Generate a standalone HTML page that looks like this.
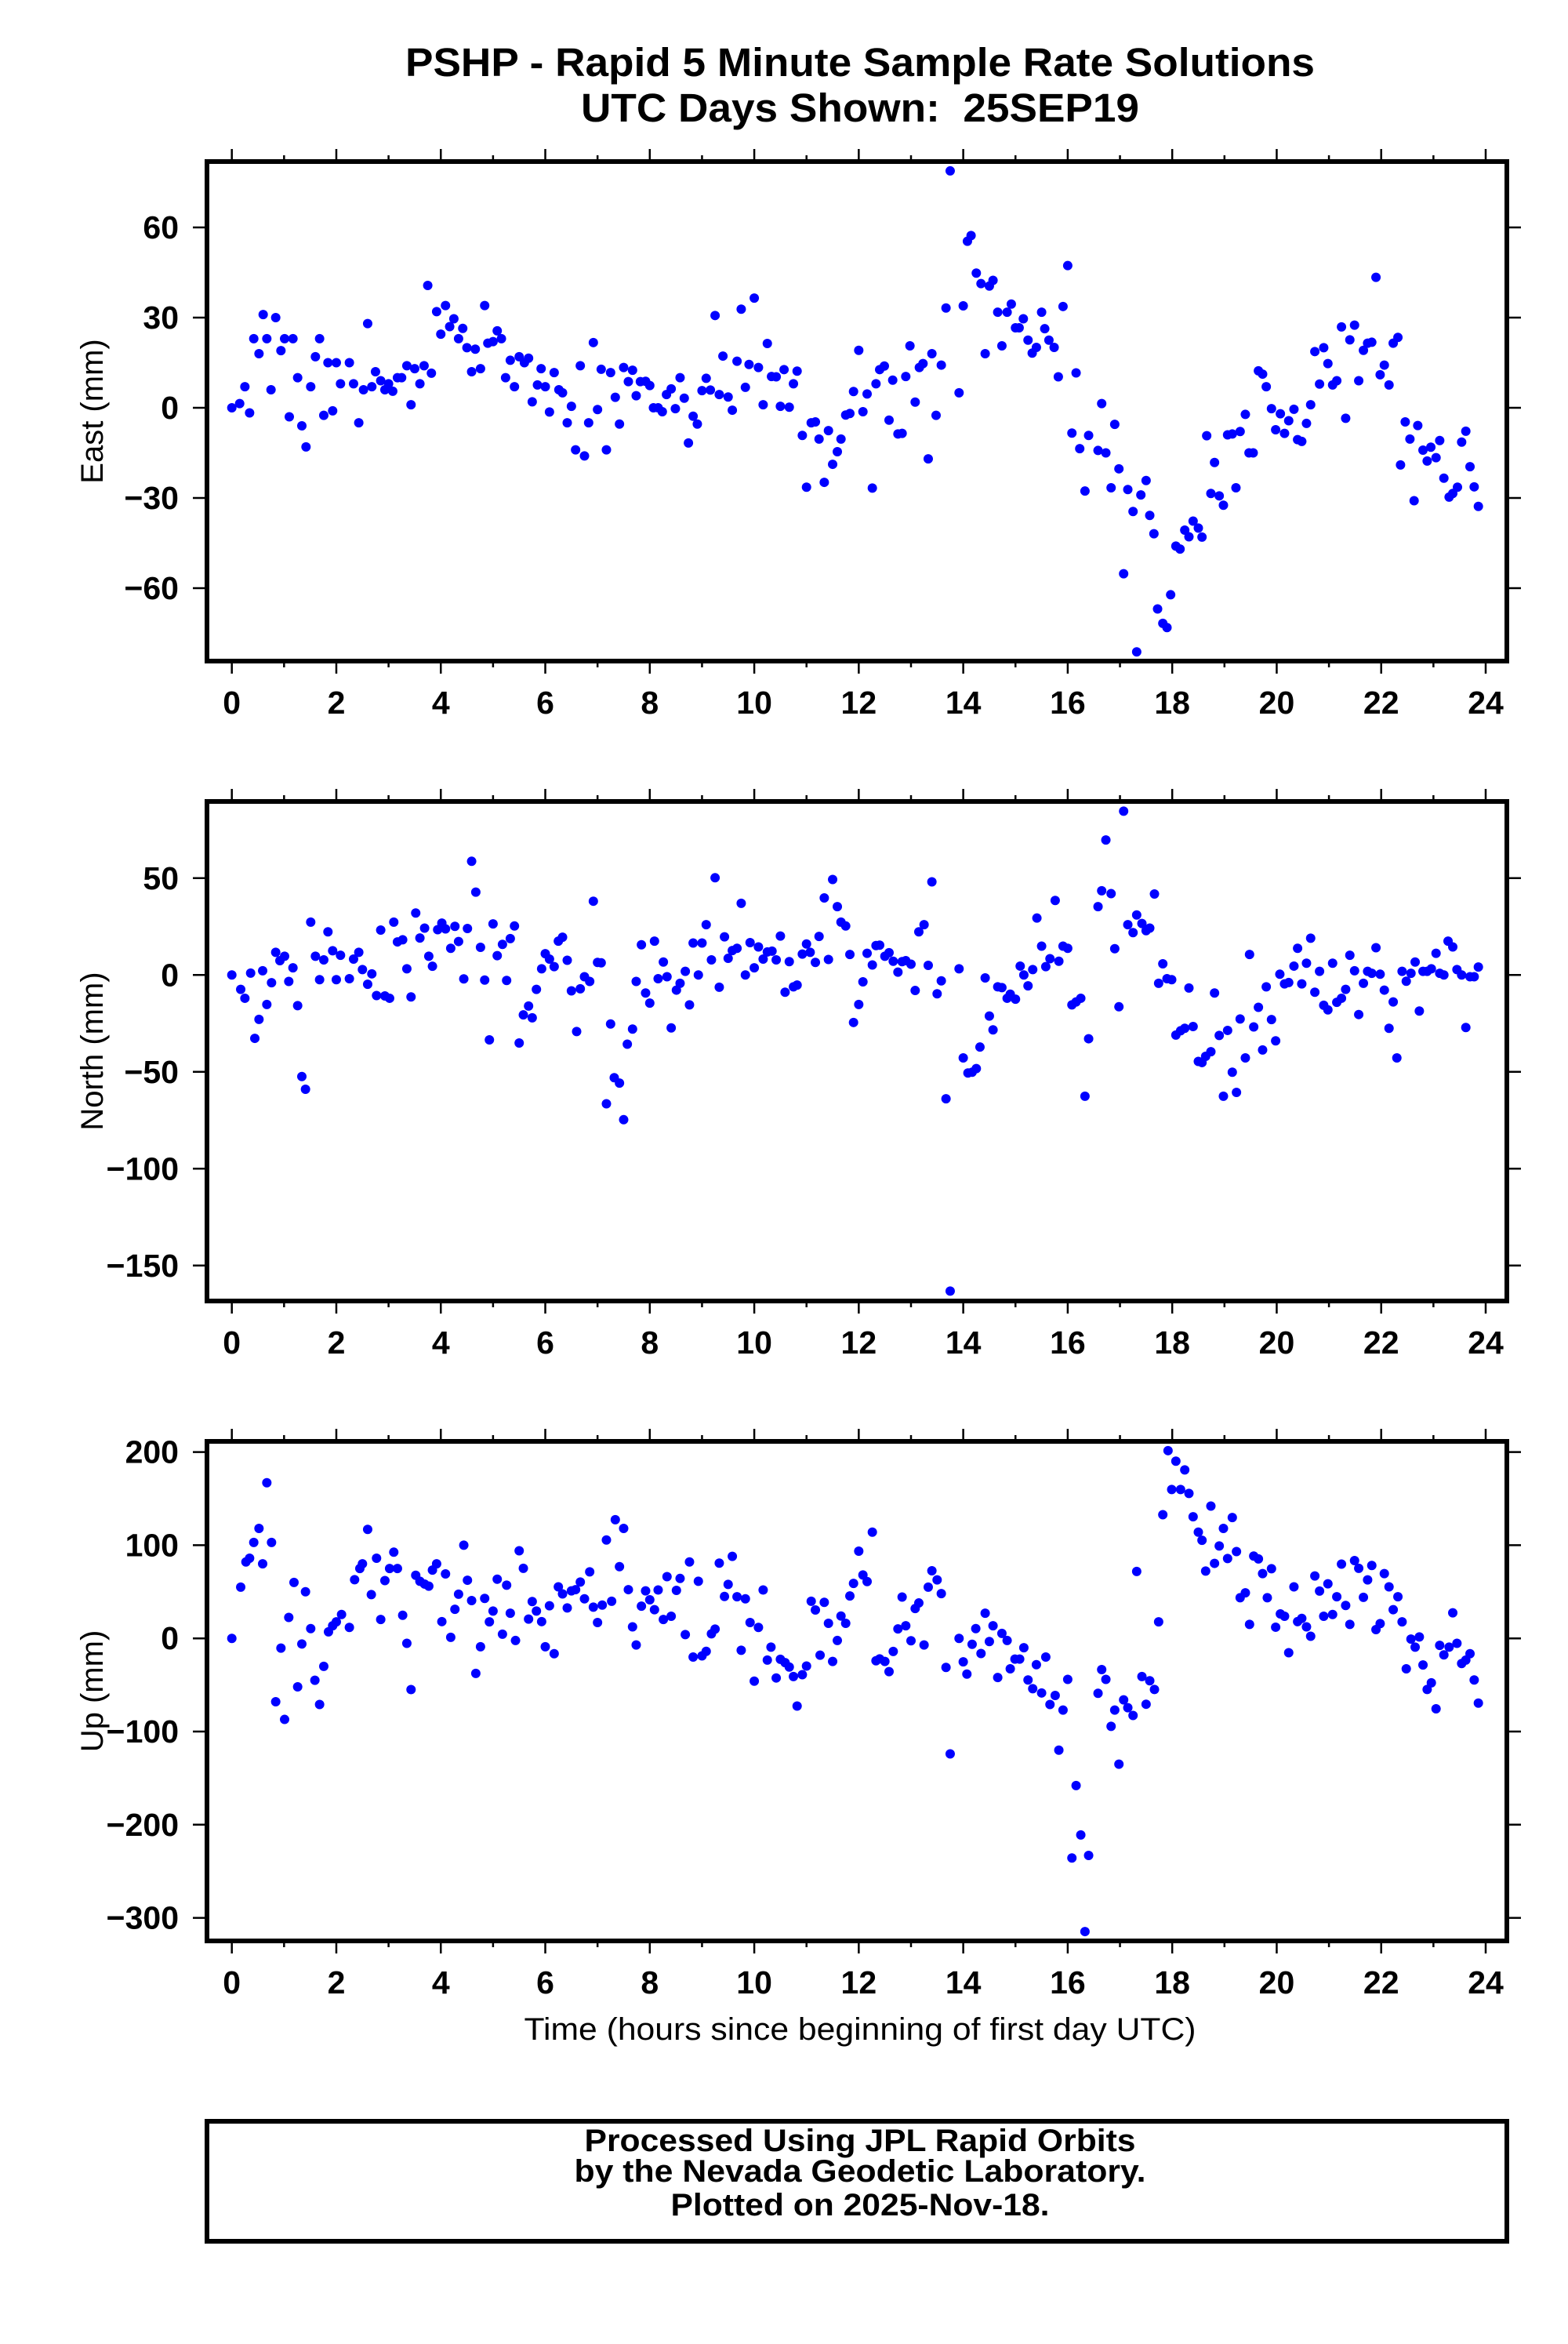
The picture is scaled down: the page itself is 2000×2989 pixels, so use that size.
<!DOCTYPE html>
<html><head><meta charset="utf-8">
<style>
html,body{margin:0;padding:0;background:#fff;}
svg{display:block;}
text{font-family:"Liberation Sans",Arial,sans-serif;fill:#000;}
</style></head>
<body>
<svg id="fig" width="2000" height="2989" viewBox="0 0 2000 2989" xmlns="http://www.w3.org/2000/svg">
<rect x="0" y="0" width="2000" height="2989" fill="#fff"/>
<text x="1097" y="97" font-size="51" font-weight="bold" text-anchor="middle" textLength="1160" lengthAdjust="spacingAndGlyphs">PSHP - Rapid 5 Minute Sample Rate Solutions</text>
<text x="1097" y="155" font-size="51" font-weight="bold" text-anchor="middle" textLength="712" lengthAdjust="spacingAndGlyphs">UTC Days Shown: &#160;25SEP19</text>
<g id="panels"></g>
<text x="1097" y="2601" font-size="40" text-anchor="middle" textLength="857" lengthAdjust="spacingAndGlyphs">Time (hours since beginning of first day UTC)</text>
<rect x="264" y="2705" width="1658" height="153" fill="none" stroke="#000" stroke-width="6"/>
<text x="1097" y="2743" font-size="40" font-weight="bold" text-anchor="middle" textLength="703" lengthAdjust="spacingAndGlyphs">Processed Using JPL Rapid Orbits</text>
<text x="1097" y="2782" font-size="40" font-weight="bold" text-anchor="middle" textLength="729" lengthAdjust="spacingAndGlyphs">by the Nevada Geodetic Laboratory.</text>
<text x="1097" y="2825" font-size="40" font-weight="bold" text-anchor="middle" textLength="483" lengthAdjust="spacingAndGlyphs">Plotted on 2025-Nov-18.</text>
</svg>
<script>
const xTicks=[0,2,4,6,8,10,12,14,16,18,20,22,24];
const xTickLabels=["0","2","4","6","8","10","12","14","16","18","20","22","24"];

const eastT=[0,.15,.25,.34,.42,.52,.6,.67,.75,.84,.94,1.01,1.1,1.17,1.26,1.34,1.42,1.51,1.6,1.68,1.76,1.84,1.93,2.0,2.08,2.25,2.33,2.43,2.52,2.6,2.68,2.75,2.85,2.93,3.0,3.08,3.17,3.25,3.35,3.43,3.5,3.6,3.68,3.75,3.82,3.92,4.0,4.09,4.17,4.25,4.34,4.42,4.5,4.59,4.66,4.76,4.84,4.9,5.0,5.08,5.16,5.24,5.33,5.41,5.5,5.6,5.68,5.75,5.85,5.92,6.0,6.08,6.17,6.26,6.33,6.42,6.5,6.58,6.67,6.75,6.83,6.92,7.0,7.07,7.17,7.25,7.34,7.42,7.5,7.59,7.67,7.74,7.82,7.92,8.0,8.07,8.16,8.24,8.32,8.41,8.49,8.58,8.66,8.74,8.83,8.91,9.0,9.08,9.16,9.25,9.33,9.4,9.5,9.58,9.67,9.75,9.83,9.9,10.0,10.08,10.17,10.25,10.33,10.42,10.5,10.57,10.67,10.75,10.82,10.92,11.0,11.09,11.17,11.24,11.34,11.42,11.5,11.59,11.66,11.75,11.83,11.9,12.0,12.08,12.16,12.26,12.33,12.4,12.49,12.58,12.65,12.75,12.83,12.9,12.98,13.08,13.16,13.23,13.33,13.4,13.48,13.58,13.67,13.75,13.92,14.0,14.08,14.15,14.25,14.34,14.42,14.5,14.57,14.66,14.74,14.84,14.92,15.0,15.07,15.15,15.24,15.32,15.4,15.5,15.56,15.64,15.74,15.82,15.91,16.0,16.08,16.16,16.23,16.33,16.4,16.58,16.65,16.73,16.83,16.9,16.98,17.07,17.15,17.25,17.32,17.4,17.5,17.57,17.65,17.72,17.82,17.9,17.97,18.07,18.15,18.24,18.32,18.4,18.5,18.57,18.66,18.74,18.81,18.9,18.98,19.06,19.15,19.22,19.3,19.4,19.47,19.55,19.65,19.73,19.8,19.9,19.98,20.07,20.15,20.23,20.33,20.4,20.48,20.57,20.65,20.73,20.82,20.9,20.98,21.07,21.15,21.24,21.32,21.4,21.49,21.57,21.66,21.74,21.82,21.9,21.98,22.06,22.15,22.23,22.32,22.37,22.46,22.55,22.63,22.7,22.8,22.88,22.95,23.05,23.12,23.2,23.3,23.37,23.46,23.54,23.62,23.7,23.78,23.86];
const eastV=[0,1.4,7,-1.7,23,18,31,23,6,30,19,23,-3,23,10,-6,-13,7,17,23,-2.5,15,-1,15,8,15,8,-5,6,28,7,12,9,6,8,5.5,10,10,14,1,13,8,14,40.7,11.5,32,24.5,34,27,29.6,23,26.4,20,12,19.5,13,34,21.5,22,25.6,23,10,15.8,7,17,15,16.5,2,7.6,13,7,-1.4,11.7,6,5,-5,0.5,-14,14,-16,-5,21.7,-0.6,12.8,-14,11.7,3.5,-5.4,13.4,8.7,12.5,4,8.7,8.8,7.4,0,0,-1.3,4.4,6.3,-0.3,10,3.2,-11.7,-2.8,-5.4,5.7,9.8,5.9,30.7,4.4,17.2,3.6,-0.8,15.5,32.8,6.8,14.4,36.5,13.4,1,21.4,10.4,10.3,0.5,12.7,0.2,8,12.2,-9.2,-26.4,-5,-4.7,-10.4,-24.8,-7.6,-18.8,-14.6,-10.4,-2.4,-1.9,5.4,19.1,-1.3,4.6,-26.7,8,12.7,13.9,-4.1,9.2,-8.7,-8.5,10.4,20.6,1.9,13.4,14.7,-17,18,-2.5,14.2,33.2,78.8,5,33.9,55.4,57.3,44.8,41.3,18,40.5,42.4,31.8,20.6,31.8,34.5,26.6,26.6,29.6,22.5,18.2,20.1,31.8,26.3,22.5,20.1,10.3,33.7,47.3,-8.4,11.6,-13.6,-27.7,-9.2,-14.2,1.4,-15,-26.6,-5.5,-20.3,-55.2,-27.2,-34.5,-81.2,-29,-24.2,-35.8,-41.9,-66.9,-71.7,-73.1,-62.2,-46,-47,-40.7,-42.9,-37.7,-40,-43,-9.3,-28.5,-18.2,-29.3,-32.4,-9,-8.7,-26.6,-7.9,-2.2,-15,-15,12.3,11.2,7,-0.3,-7.3,-2,-8.5,-4.3,-0.5,-10.6,-11.2,-5.2,1,18.7,7.9,20,14.7,7.6,9,26.9,-3.5,22.6,27.5,9,19.1,21.5,21.8,43.4,11,14.2,7.6,21.5,23.4,-19,-4.7,-10.4,-30.9,-5.9,-14.1,-17.7,-13.1,-16.6,-10.9,-23.4,-29.7,-28.5,-26.4,-11.4,-7.8,-19.6,-26.3,-32.8];

const northT=[0,.17,.25,.36,.44,.52,.59,.67,.76,.84,.92,1.01,1.09,1.17,1.26,1.34,1.41,1.51,1.6,1.68,1.76,1.84,1.93,2.0,2.08,2.25,2.33,2.43,2.5,2.6,2.68,2.77,2.85,2.93,3.02,3.1,3.17,3.27,3.35,3.43,3.52,3.6,3.69,3.77,3.84,3.94,4.02,4.09,4.19,4.27,4.34,4.44,4.51,4.59,4.67,4.76,4.84,4.93,5.0,5.08,5.18,5.26,5.33,5.41,5.5,5.58,5.68,5.75,5.83,5.93,6.0,6.08,6.17,6.25,6.33,6.42,6.5,6.6,6.67,6.75,6.85,6.92,7.0,7.07,7.17,7.25,7.32,7.42,7.5,7.57,7.67,7.74,7.84,7.92,8.0,8.09,8.16,8.26,8.33,8.41,8.51,8.58,8.68,8.76,8.83,8.93,9.0,9.08,9.18,9.25,9.33,9.43,9.5,9.58,9.67,9.75,9.83,9.92,10.0,10.08,10.17,10.25,10.34,10.42,10.5,10.59,10.67,10.75,10.82,10.92,11.0,11.07,11.17,11.24,11.34,11.42,11.5,11.59,11.66,11.75,11.83,11.9,12.0,12.08,12.16,12.26,12.33,12.4,12.5,12.58,12.66,12.75,12.83,12.9,13.0,13.08,13.15,13.25,13.33,13.4,13.5,13.58,13.67,13.75,13.92,14.0,14.09,14.17,14.25,14.32,14.42,14.5,14.57,14.66,14.74,14.84,14.9,15.0,15.09,15.16,15.24,15.33,15.41,15.5,15.58,15.66,15.76,15.83,15.91,16.0,16.08,16.16,16.25,16.33,16.4,16.58,16.65,16.73,16.83,16.9,16.98,17.07,17.15,17.25,17.32,17.42,17.5,17.57,17.66,17.74,17.82,17.9,17.99,18.07,18.16,18.24,18.32,18.4,18.5,18.57,18.64,18.74,18.81,18.9,18.98,19.06,19.15,19.23,19.3,19.4,19.48,19.56,19.65,19.73,19.8,19.9,19.98,20.06,20.15,20.23,20.33,20.4,20.48,20.57,20.65,20.73,20.82,20.9,20.98,21.07,21.15,21.24,21.32,21.4,21.49,21.57,21.66,21.74,21.82,21.9,21.98,22.06,22.15,22.23,22.3,22.4,22.48,22.57,22.65,22.73,22.8,22.88,22.96,23.05,23.12,23.2,23.28,23.37,23.45,23.54,23.62,23.7,23.78,23.86];
const northV=[0,-7.4,-12,1,-32.7,-22.9,2.2,-15.2,-4,11.7,7.4,9.7,-3.3,3.7,-15.8,-52.4,-59,27.3,9.7,-2.4,7.8,22.3,12.5,-2.4,10.2,-1.9,8.2,11.7,2.8,-4.8,0.6,-10.6,23.2,-10.8,-12,27.3,17.1,18.2,3.2,-11.3,32,19.1,24.2,9.7,4.5,23.4,26.8,23.8,13.8,25.1,17.3,-2,24,58.7,42.8,14.3,-2.6,-33.5,26.4,10,15.8,-2.8,18.8,25.3,-35.1,-20.6,-16,-22.1,-7.4,3.2,11,8.2,4.3,17.5,19.5,7.6,-8.2,-29.2,-7.1,-0.9,-3.3,38.1,6.5,6.3,-66.5,-25.3,-53,-55.8,-74.7,-35.7,-27.9,-3.3,15.6,-9.3,-14.5,17.5,-1.9,6.7,-0.9,-27.3,-7.8,-4.3,1.9,-15.4,16.5,0,16.5,26,7.8,50.2,-6.3,19.7,8.6,12.6,13.8,37,0,16.7,3.7,14.5,8.2,11.9,12.3,7.8,20.1,-8.9,6.9,-6.1,-5.2,10.8,16,11.7,6.5,19.9,39.8,8,49.3,35.3,27.3,25.3,10.6,-24.5,-15.2,-3.5,11.2,5.2,15.2,15.4,9.7,11.5,7.1,1.5,6.9,7.4,5.6,-8,22.3,26,5,48.1,-9.7,-3,-63.9,-163.2,3.2,-42.8,-50.6,-50.2,-48.3,-37.2,-1.5,-21.2,-28.3,-6.1,-6.5,-12,-9.9,-12.5,4.6,0,-5.6,2.8,29.4,14.9,4.3,8.4,38.5,7.1,14.9,13.8,-15.4,-13.9,-12,-62.6,-32.9,35.3,43.5,69.7,42,13.6,-16.4,84.6,26,21.9,31,26.6,22.9,24.2,41.8,-4.3,5.8,-1.9,-2.4,-31,-28.8,-27.5,-6.7,-26.6,-44.6,-45.2,-42,-39.6,-9.3,-31.2,-62.6,-28.6,-50.2,-60.6,-22.7,-42.8,10.6,-26.8,-16.7,-38.7,-6.1,-23,-34,0.4,-4.6,-3.9,4.6,13.8,-4.6,6.1,19,-8.9,1.9,-15.6,-18,6.1,-14.1,-12,-7.4,10.2,2.2,-20.4,-4.3,1.9,0.9,14.1,0.4,-7.8,-27.5,-13.9,-42.8,1.9,-3.2,0.9,6.7,-18.6,1.9,1.9,3.2,11.2,0.9,0,17.5,14.5,2.8,0,-27.1,-0.9,-0.9,4.1];

const upT=[0,.17,.27,.34,.42,.52,.59,.67,.76,.84,.94,1.01,1.09,1.19,1.26,1.34,1.41,1.51,1.59,1.68,1.76,1.85,1.93,2.0,2.1,2.25,2.35,2.45,2.5,2.6,2.67,2.77,2.85,2.93,3.02,3.1,3.17,3.27,3.35,3.43,3.52,3.6,3.69,3.77,3.84,3.92,4.02,4.09,4.19,4.27,4.34,4.44,4.51,4.59,4.67,4.76,4.84,4.93,5.0,5.08,5.18,5.26,5.33,5.43,5.5,5.58,5.68,5.75,5.83,5.93,6.0,6.08,6.17,6.25,6.33,6.42,6.5,6.58,6.67,6.75,6.85,6.92,7.0,7.09,7.17,7.27,7.34,7.42,7.5,7.59,7.67,7.74,7.84,7.92,8.0,8.09,8.16,8.26,8.33,8.41,8.51,8.58,8.68,8.76,8.83,8.93,9.0,9.08,9.18,9.25,9.33,9.43,9.5,9.58,9.67,9.75,9.83,9.92,10.0,10.08,10.17,10.25,10.32,10.42,10.5,10.59,10.67,10.75,10.82,10.92,11.0,11.09,11.17,11.26,11.34,11.42,11.5,11.59,11.66,11.75,11.83,11.9,12.0,12.08,12.16,12.26,12.33,12.4,12.5,12.58,12.66,12.75,12.83,12.9,13.0,13.08,13.15,13.25,13.33,13.4,13.5,13.58,13.67,13.75,13.92,14.0,14.07,14.17,14.24,14.34,14.42,14.5,14.57,14.66,14.74,14.84,14.9,14.99,15.08,15.16,15.24,15.33,15.4,15.5,15.58,15.66,15.76,15.83,15.91,16.0,16.08,16.16,16.25,16.33,16.4,16.58,16.65,16.73,16.83,16.9,16.98,17.07,17.15,17.25,17.32,17.42,17.5,17.57,17.66,17.74,17.82,17.92,17.99,18.07,18.16,18.24,18.32,18.4,18.5,18.57,18.64,18.74,18.81,18.9,18.98,19.06,19.15,19.23,19.3,19.4,19.48,19.56,19.65,19.73,19.82,19.9,19.98,20.07,20.15,20.23,20.33,20.4,20.48,20.57,20.65,20.73,20.82,20.9,20.98,21.07,21.15,21.24,21.32,21.4,21.49,21.57,21.66,21.74,21.82,21.9,21.98,22.06,22.15,22.23,22.32,22.4,22.48,22.57,22.65,22.73,22.8,22.88,22.96,23.05,23.12,23.2,23.3,23.37,23.45,23.54,23.62,23.7,23.78,23.86];
const upV=[0,55,82,86,103,118,80,167,103,-68,-10.5,-87,22.5,60,-52,-6,50,10.5,-45,-71,-30,7,13.5,17.7,25.6,11.7,63,75,80,117,47,86,20.3,62,75,92.5,75,24.8,-5.3,-55,67.7,61.3,58.3,56,73.3,80,18,69.2,1.1,31.2,47.4,100,62.4,40.6,-37.6,-9,42.9,17.7,29.3,63.5,4.5,57.1,27,-2.3,94,75.2,20.7,39.5,29.3,18,-9,35,-16.5,55.3,47.7,32.7,51,52.3,60.5,42.5,71.4,33.5,17,35.7,105.6,39.8,127.4,77,118,52.3,12.4,-7.1,34.6,51,41.4,30.8,51.9,20.3,66.2,23.7,51.5,64.3,4.1,82,-20,61.3,-18.8,-13.9,4.9,10,80.8,45,57.9,88,44.7,-12.8,42.5,17,-45.9,11.7,51.9,-23.3,-9.4,-42.5,-22.5,-26,-30.8,-41,-72.6,-39,-29.7,39.8,30.5,-18,38.7,16.2,-24.8,-2.3,24,16.2,45.5,59,93.6,68,61,114,-24,-22,-24.8,-35.7,-14,10.2,44.4,13.5,-2.6,32,38,-7.1,55,72.6,62.8,48,-31.2,-124,0,-25.2,-38.3,-6.4,10.5,-16.2,27,-3.4,13.5,-42,5.3,-2.3,-32.7,-22.2,-22.2,-10,-44.7,-54,-28.2,-58.6,-20,-71,-61.3,-120,-77,-44,-235.7,-158,-211,-314.7,-233,-59,-33.5,-44,-94.4,-77,-135,-66,-74.4,-82.7,71.8,-41,-70.7,-45.5,-54.9,17.7,132.7,201.5,159.8,190.2,159.8,180.8,155.6,130.5,114,105.3,72.2,142,80.5,99.2,118,85.7,129.7,93.2,43.6,48.9,15,88.3,85.3,69.5,43.6,74.8,12,26.3,23.7,-15.4,55.3,18,21.4,12.4,2.3,67,50.8,23.7,58.6,25.6,44.7,79.7,35.3,15,83.5,75.2,44,62.8,78.2,9.4,15.8,69.5,55.3,30.8,44.7,17.7,-32.7,-0.8,-9.4,1.5,-28.6,-54.9,-47.7,-75.6,-7.5,-17.7,-9.4,27.4,-5.3,-27,-23.3,-16.5,-44.7,-69.5];

const eastTicks=[60,30,0,-30,-60];
const eastTickLabels=["60","30","0","\u221230","\u221260"];
const northTicks=[50,0,-50,-100,-150];
const northTickLabels=["50","0","\u221250","\u2212100","\u2212150"];
const upTicks=[200,100,0,-100,-200,-300];
const upTickLabels=["200","100","0","\u2212100","\u2212200","\u2212300"];

const NS="http://www.w3.org/2000/svg";
const L=264,R=1922,X0=295.7,X24=1895;
function xScale(h){return X0+(X24-X0)*h/24;}
function mk(tag,attrs,parent){const e=document.createElementNS(NS,tag);for(const k in attrs)e.setAttribute(k,attrs[k]);parent.appendChild(e);return e;}

const panels=[
 {key:"east",title:"East (mm)",top:206,bot:843,y0:520,pxPer:115/30,T:eastT,V:eastV,ticks:eastTicks,labels:eastTickLabels},
 {key:"north",title:"North (mm)",top:1022,bot:1659,y0:1243.3,pxPer:123.5/50,T:northT,V:northV,ticks:northTicks,labels:northTickLabels},
 {key:"up",title:"Up (mm)",top:1838,bot:2475,y0:2089.2,pxPer:118.8/100,T:upT,V:upV,ticks:upTicks,labels:upTickLabels}
];
const root=document.getElementById('panels');
panels.forEach(p=>{
 const yScale=v=>p.y0-v*p.pxPer;
 const g=mk('g',{},root);
 
 
 for(let h=0;h<=24;h++){
  const x=xScale(h);const len=(h%2===0)?16:8;
  const t1=mk('line',{x1:x,x2:x,y1:p.top,y2:p.top-len,stroke:'#000','stroke-width':2.5},g);
  
  
  const t2=mk('line',{x1:x,x2:x,y1:p.bot,y2:p.bot+len,stroke:'#000','stroke-width':2.5},g);
  
  
 }
 xTicks.forEach((h,i)=>{
  const t=mk('text',{x:xScale(h),y:p.bot+67,'font-size':41,'font-weight':'bold','text-anchor':'middle'},g);
  t.textContent=xTickLabels[i];
  
  
 });
 p.ticks.forEach((v,i)=>{
  const y=yScale(v);
  const a=mk('line',{x1:L,x2:L-18,y1:y,y2:y,stroke:'#000','stroke-width':2.5},g);
  
  
  const b=mk('line',{x1:R,x2:R+18,y1:y,y2:y,stroke:'#000','stroke-width':2.5},g);
  
  
  const t=mk('text',{x:228,y:y+14,'font-size':41,'font-weight':'bold','text-anchor':'end'},g);
  t.textContent=p.labels[i];
  
  
 });
 const cy=(p.top+p.bot)/2;
 const yt=mk('text',{x:0,y:0,'font-size':40,'text-anchor':'middle',transform:'translate(131,'+cy+') rotate(-90)'},g);
 yt.textContent=p.title;
 
 
 const dots=mk('g',{fill:'#0000ff'},g);
 
 
 p.T.forEach((h,i)=>{
  const c=mk('circle',{cx:xScale(h),cy:yScale(p.V[i]),r:6},dots);
  
  
 });
 const fr=mk('rect',{x:L,y:p.top,width:R-L,height:p.bot-p.top,fill:'none',stroke:'#000','stroke-width':6},g);
 
 
});
</script>
</body></html>
